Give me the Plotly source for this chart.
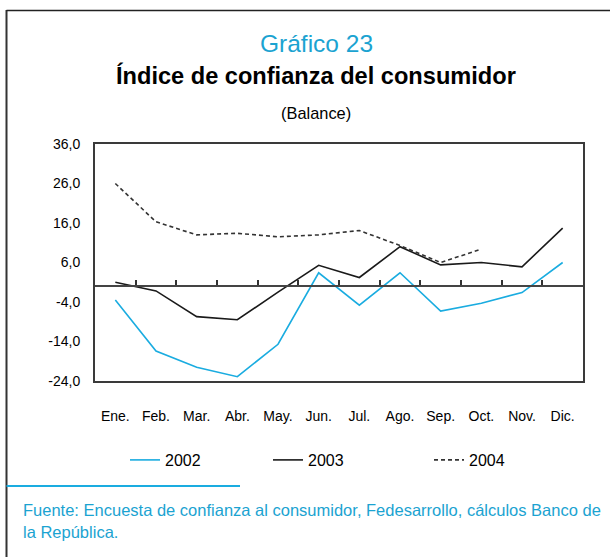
import plotly.graph_objects as go

months = ["Ene.", "Feb.", "Mar.", "Abr.", "May.", "Jun.", "Jul.", "Ago.", "Sep.", "Oct.", "Nov.", "Dic."]
y2002 = [-3.5, -16.4, -20.5, -22.9, -14.7, 3.4, -4.8, 3.4, -6.3, -4.3, -1.6, 6.0]
y2003 = [1.0, -1.2, -7.7, -8.5, -1.5, 5.3, 2.2, 10.0, 5.4, 6.0, 4.9, 14.7]
y2004 = [26.0, 16.3, 13.0, 13.4, 12.5, 13.0, 14.1, 10.3, 6.0, 9.4]
ytick_vals = [-24, -14, -4, 6, 16, 26, 36]
ytick_text = ["-24,0", "-14,0", "-4,0", "6,0", "16,0", "26,0", "36,0"]
boundary_ticks = [0.5, 1.5, 2.5, 3.5, 4.5, 5.5, 6.5, 7.5, 8.5, 9.5, 10.5]

CYAN = "#1AACE0"
CYAN_TXT = "#1BA3D1"
REG = "Liberation Sans, Arial, Helvetica, sans-serif"

fig = go.Figure()
fig.add_trace(go.Scatter(x=months, y=y2002, mode="lines", name="2002",
                         line=dict(color=CYAN, width=1.6), legend="legend"))
fig.add_trace(go.Scatter(x=months, y=y2003, mode="lines", name="2003",
                         line=dict(color="#1a1a1a", width=1.6), legend="legend2"))
fig.add_trace(go.Scatter(x=months[:len(y2004)], y=y2004, mode="lines", name="2004",
                         line=dict(color="#333333", width=1.6, dash="4px,3px"), legend="legend3"))
# empty trace to host the zero-line axis
fig.add_trace(go.Scatter(x=[], y=[], xaxis="x2", showlegend=False, hoverinfo="skip"))

W, H = 610, 557
L, R, T, B = 95, 27, 144, 176
pw, ph = W - L - R, H - T - B

def px(x):
    return (x - L) / pw

def py(y):
    return (H - B - y) / ph

leg_font = dict(family=REG, size=16, color="black")
fig.update_layout(
    width=W, height=H,
    margin=dict(l=L, r=R, t=T, b=B),
    paper_bgcolor="white", plot_bgcolor="white",
    showlegend=True,
    xaxis=dict(type="category", range=[-0.5, 11.5], showline=True, mirror=True,
               linecolor="#3a3a3a", linewidth=2, ticks="", showgrid=False,
               zeroline=False, ticklabelstandoff=21,
               tickfont=dict(family=REG, size=14, color="black")),
    xaxis2=dict(type="linear", range=[-0.5, 11.5], overlaying="x", anchor="free",
                position=0.4, showline=True, linecolor="#444444", linewidth=2,
                ticks="inside", ticklen=5, tickwidth=1.5, tickcolor="#333333",
                tickvals=boundary_ticks, showticklabels=False, showgrid=False,
                zeroline=False),
    yaxis=dict(range=[-24, 36], tickvals=ytick_vals, ticktext=ytick_text,
               showline=True, mirror=True, linecolor="#3a3a3a", linewidth=2,
               ticks="", showgrid=False, zeroline=False, ticklabelstandoff=10,
               tickfont=dict(family=REG, size=14, color="black")),
    legend=dict(orientation="h", x=px(125), y=py(460), xanchor="left", yanchor="middle",
                font=leg_font, bgcolor="rgba(0,0,0,0)"),
    legend2=dict(orientation="h", x=px(268), y=py(460), xanchor="left", yanchor="middle",
                 font=leg_font, bgcolor="rgba(0,0,0,0)"),
    legend3=dict(orientation="h", x=px(429), y=py(460), xanchor="left", yanchor="middle",
                 font=leg_font, bgcolor="rgba(0,0,0,0)"),
)

fig.add_annotation(text="Gráfico 23", xref="paper", yref="paper", x=px(316), y=py(43),
                   xanchor="center", yanchor="middle", showarrow=False,
                   font=dict(family=REG, size=24.5, color=CYAN_TXT))
fig.add_annotation(text="<b>Índice de confianza del consumidor</b>", xref="paper", yref="paper",
                   x=px(316), y=py(76), xanchor="center", yanchor="middle", showarrow=False,
                   font=dict(family=REG, size=23.6, color="black"))
fig.add_annotation(text="(Balance)", xref="paper", yref="paper", x=px(316), y=py(113),
                   xanchor="center", yanchor="middle", showarrow=False,
                   font=dict(family=REG, size=16.4, color="black"))
fig.add_annotation(text="Fuente: Encuesta de confianza al consumidor, Fedesarrollo, cálculos Banco de",
                   xref="paper", yref="paper", x=px(21), y=py(510), xanchor="left",
                   yanchor="middle", showarrow=False,
                   font=dict(family=REG, size=16.5, color=CYAN_TXT))
fig.add_annotation(text="la República.", xref="paper", yref="paper", x=px(21), y=py(532),
                   xanchor="left", yanchor="middle", showarrow=False,
                   font=dict(family=REG, size=16.5, color=CYAN_TXT))

# outer frame (left and top) and blue separator
fig.add_shape(type="line", xref="paper", yref="paper", x0=px(6.5), x1=px(6.5), y0=py(10), y1=py(557),
              line=dict(color="#333333", width=2))
fig.add_shape(type="line", xref="paper", yref="paper", x0=px(6.5), x1=px(610), y0=py(10.5), y1=py(10.5),
              line=dict(color="#222222", width=1.5))
fig.add_shape(type="line", xref="paper", yref="paper", x0=px(6.5), x1=px(240), y0=py(486), y1=py(486),
              line=dict(color=CYAN, width=1.8))

fig.write_html("out.html", config={"displayModeBar": False},
               post_script="document.body.style.margin='0';")
